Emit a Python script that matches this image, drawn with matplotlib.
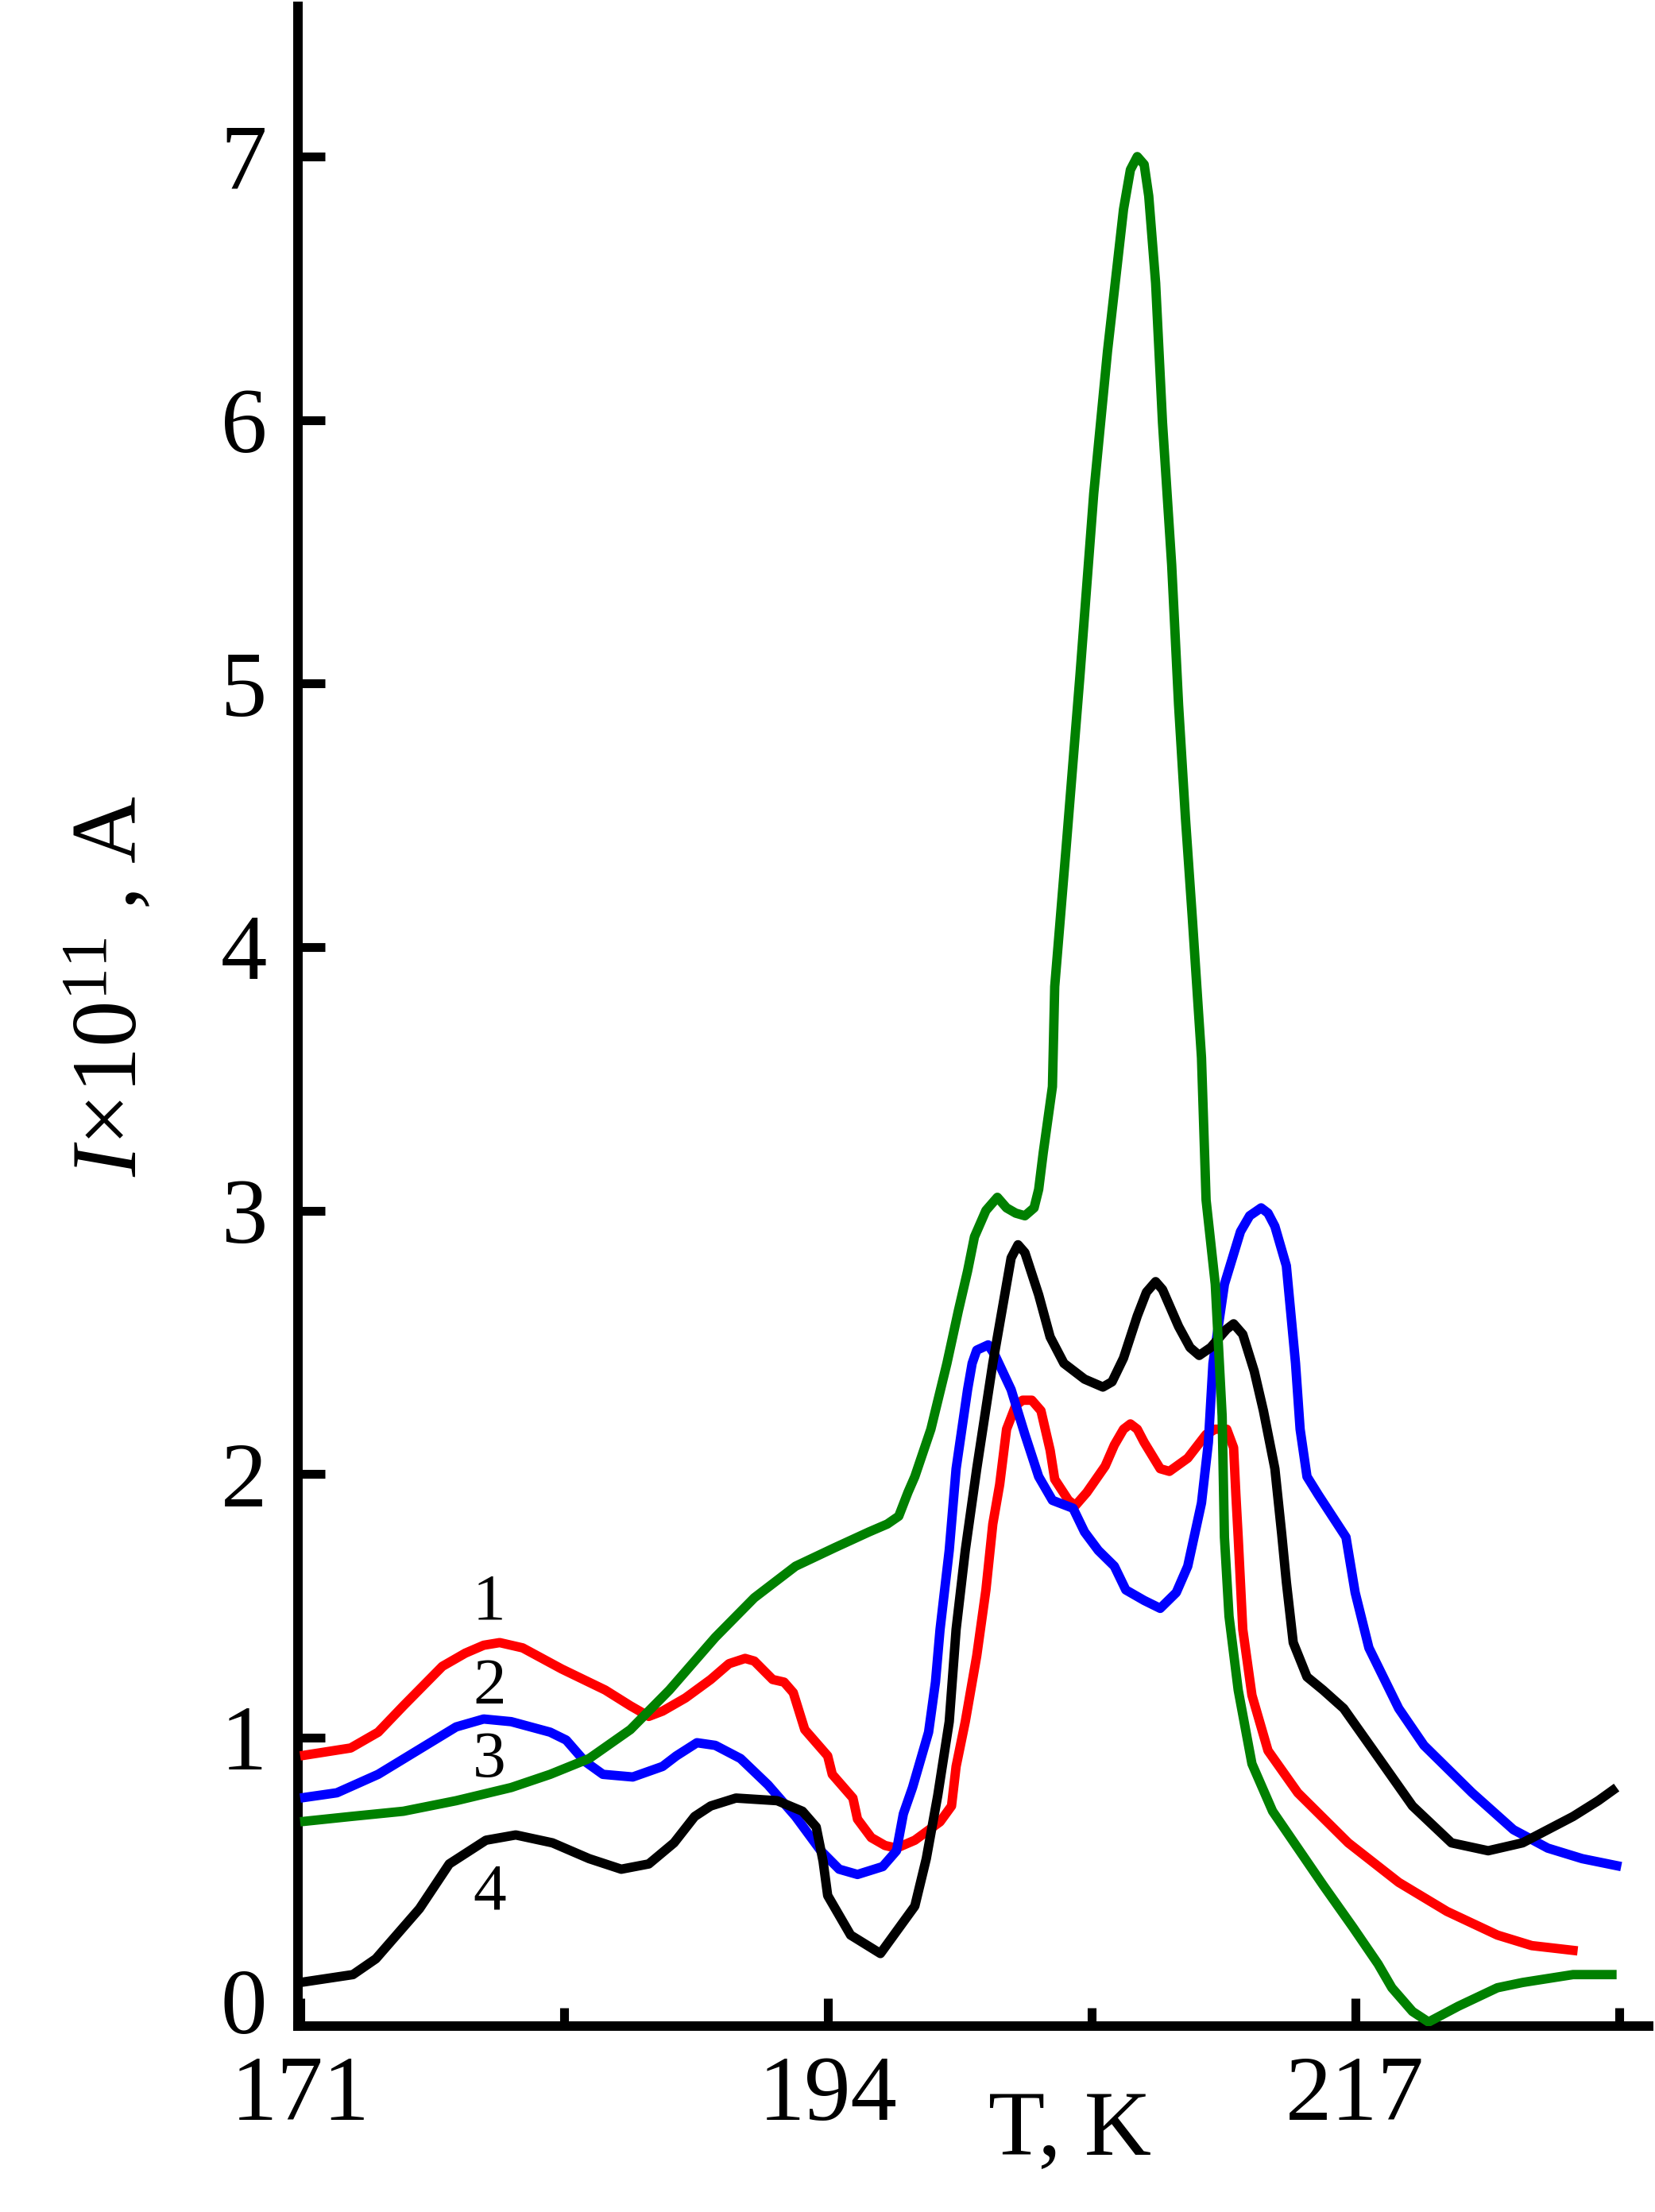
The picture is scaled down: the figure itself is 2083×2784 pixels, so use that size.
import matplotlib
matplotlib.use('Agg')
import matplotlib.pyplot as plt

plt.rcParams['font.family'] = ['Liberation Serif', 'DejaVu Serif']
plt.rcParams['mathtext.fontset'] = 'custom'
plt.rcParams['mathtext.rm'] = 'Liberation Serif'
plt.rcParams['mathtext.it'] = 'Liberation Serif:italic'

# ---- data (T in K, I x 1e11 in A) ----
T_red = [171.0, 173.2, 174.4, 175.5, 177.2, 178.2, 179.0, 179.7, 180.7, 182.4, 184.3, 185.4, 186.2, 186.8,
         187.8, 188.9, 189.7, 190.4, 190.8, 191.6, 192.1, 192.5, 193.0, 193.6, 194.0, 194.2, 194.6,
         195.1, 195.3, 195.9, 196.5, 197.0, 197.8, 198.9, 199.4, 199.6, 200.0, 200.5, 200.9, 201.2, 201.5,
         201.8, 202.2, 202.5, 202.9, 203.3, 203.7, 203.9, 204.5, 204.8, 205.3, 206.1, 206.5, 206.9, 207.2, 207.5, 207.8,
         208.5, 208.9, 209.7, 210.5, 210.9, 211.4, 211.7, 211.8, 211.9, 212.1, 212.5, 213.2, 214.5,
         216.7, 218.9, 221.0, 223.2, 224.7, 226.7]
I_red = [0.93, 0.96, 1.02, 1.12, 1.27, 1.32, 1.35, 1.36, 1.34, 1.26, 1.18, 1.12, 1.08, 1.10,
         1.15, 1.22, 1.28, 1.30, 1.29, 1.22, 1.21, 1.17, 1.03, 0.97, 0.93, 0.86, 0.82,
         0.77, 0.69, 0.62, 0.59, 0.58, 0.61, 0.68, 0.74, 0.89, 1.06, 1.31, 1.56, 1.81, 1.96,
         2.17, 2.26, 2.28, 2.28, 2.24, 2.09, 1.98, 1.90, 1.88, 1.93, 2.03, 2.11, 2.17, 2.19, 2.17, 2.12,
         2.02, 2.01, 2.06, 2.15, 2.17, 2.17, 2.10, 1.92, 1.76, 1.41, 1.16, 0.95, 0.79,
         0.60, 0.45, 0.34, 0.25, 0.21, 0.19]

T_blue = [171.0, 172.6, 174.4, 176.1, 177.8, 179.0, 180.2, 181.9, 182.6, 183.4, 184.2, 185.5, 186.8,
          187.4, 188.3, 189.1, 190.2, 191.4, 192.6, 193.7, 194.5, 195.3, 196.4, 197.0, 197.3, 197.7,
          198.4, 198.7, 198.9, 199.3, 199.6, 200.1, 200.3, 200.5, 201.0, 201.3, 202.0, 202.6, 203.2,
          203.8, 204.7, 205.2, 205.8, 206.5, 207.0, 207.8, 208.5, 209.2, 209.7, 210.3, 210.6, 210.8,
          211.3, 212.0, 212.4, 212.9, 213.2, 213.5, 214.0, 214.4, 214.6, 214.9, 215.4, 216.0, 216.6, 217.0, 217.6,
          218.9, 220.0, 222.1, 223.9, 225.4, 226.9, 228.6]
I_blue = [0.77, 0.79, 0.86, 0.95, 1.04, 1.07, 1.06, 1.02, 0.99, 0.91, 0.86, 0.85, 0.89,
          0.93, 0.98, 0.97, 0.92, 0.82, 0.70, 0.57, 0.50, 0.48, 0.51, 0.57, 0.71, 0.81,
          1.02, 1.21, 1.41, 1.71, 2.02, 2.32, 2.42, 2.47, 2.49, 2.45, 2.32, 2.15, 1.99,
          1.90, 1.87, 1.78, 1.71, 1.65, 1.56, 1.52, 1.49, 1.55, 1.65, 1.89, 2.12, 2.42,
          2.72, 2.92, 2.98, 3.01, 2.99, 2.94, 2.79, 2.42, 2.17, 1.99, 1.92, 1.84, 1.76, 1.55, 1.34,
          1.11, 0.97, 0.79, 0.65, 0.58, 0.54, 0.51]

T_black = [171.0, 173.3, 174.3, 176.2, 177.5, 179.1, 180.4, 182.0, 183.6, 185.0, 186.2, 187.3, 188.2,
           188.9, 190.0, 191.8, 192.9, 193.5, 193.8, 194.0, 195.0, 196.3, 197.8, 198.3, 198.8, 199.3,
           199.6, 200.0, 200.5, 201.2, 201.7, 202.0, 202.3, 202.6, 203.2, 203.7, 204.3, 205.2, 206.0,
           206.4, 206.9, 207.5, 207.9, 208.3, 208.6, 209.3, 209.8, 210.2, 210.7, 211.4, 211.7, 212.1,
           212.6, 213.0, 213.5, 213.8, 214.0, 214.3, 214.9, 215.6, 216.5, 217.8, 219.5, 221.2, 222.8,
           224.3, 226.5, 227.6, 228.4]
I_black = [0.07, 0.10, 0.16, 0.35, 0.52, 0.61, 0.63, 0.60, 0.54, 0.50, 0.52, 0.60, 0.70,
           0.74, 0.77, 0.76, 0.72, 0.66, 0.53, 0.40, 0.25, 0.18, 0.36, 0.54, 0.78, 1.06,
           1.41, 1.71, 2.02, 2.42, 2.67, 2.82, 2.87, 2.84, 2.68, 2.52, 2.42, 2.36, 2.33,
           2.35, 2.44, 2.60, 2.69, 2.73, 2.70, 2.56, 2.48, 2.45, 2.48, 2.55, 2.57, 2.53,
           2.39, 2.24, 2.02, 1.77, 1.59, 1.36, 1.23, 1.18, 1.11, 0.95, 0.74, 0.60, 0.57,
           0.60, 0.70, 0.76, 0.81]

T_green = [171.0, 173.2, 175.5, 177.8, 180.2, 181.9, 183.6, 185.4, 187.1, 189.1, 190.8, 192.6, 194.3,
           195.8, 196.6, 197.1, 197.5, 197.8, 198.5, 199.2, 199.7, 200.1, 200.4, 200.9, 201.4, 201.8,
           202.2, 202.6, 203.0, 203.2, 203.4, 203.8, 203.9, 204.4, 205.0, 205.6, 206.2, 206.9, 207.2, 207.5,
           207.8, 208.0, 208.3, 208.6, 209.0, 209.3, 209.6, 209.9, 210.3, 210.5, 210.9, 211.2, 211.3, 211.5,
           211.9, 212.5, 213.4, 214.5, 215.6, 216.9, 218.0, 218.6, 219.5, 220.2, 221.5, 223.2, 224.3,
           226.5, 228.4]
I_green = [0.68, 0.70, 0.72, 0.76, 0.81, 0.86, 0.92, 1.03, 1.18, 1.38, 1.53, 1.65, 1.72,
           1.78, 1.81, 1.84, 1.93, 1.99, 2.17, 2.42, 2.62, 2.77, 2.90, 3.00, 3.05, 3.01,
           2.99, 2.98, 3.01, 3.08, 3.22, 3.47, 3.85, 4.38, 5.03, 5.72, 6.26, 6.80, 6.95, 7.00,
           6.97, 6.85, 6.52, 5.99, 5.45, 4.92, 4.49, 4.11, 3.58, 3.04, 2.72, 2.22, 1.76, 1.46,
           1.18, 0.90, 0.72, 0.58, 0.44, 0.28, 0.14, 0.05, -0.04, -0.08, -0.02, 0.05, 0.07,
           0.10, 0.10]

curve_labels = ['1', '2', '3', '4']
label_T = [179.25, 179.25, 179.25, 179.25]
label_I = [1.45, 1.13, 0.85, 0.35]

x_major = [171, 194, 217]
x_minor = [182.5, 205.5, 228.5]
y_ticks = [0, 1, 2, 3, 4, 5, 6, 7]

# ---- figure ----
fig = plt.figure(figsize=(20.83, 27.84), dpi=100)
ax = fig.add_axes([0.1800, 0.0841, 0.8162, 0.9130])

lw = 8.5
style = dict(lw=lw, solid_joinstyle='round', solid_capstyle='butt')
ax.plot(T_red, I_red, color='#ff0000', zorder=3, **style)
ax.plot(T_blue, I_blue, color='#0000ff', zorder=4, **style)
ax.plot(T_black, I_black, color='#000000', zorder=5, **style)
ax.plot(T_green, I_green, color='#008000', zorder=6, **style)

for s, tx, ty in zip(curve_labels, label_T, label_I):
    ax.text(tx, ty, s, fontsize=60, ha='center', va='baseline', zorder=7)

ax.set_xlim(170.9, 229.8)
ax.set_ylim(-0.095, 7.57)

for side in ['top', 'right']:
    ax.spines[side].set_visible(False)
for side in ['left', 'bottom']:
    ax.spines[side].set_linewidth(8.6)
    ax.spines[side].set_capstyle('projecting')

ax.set_xticks(x_major)
ax.set_xticks(x_minor, minor=True)
ax.set_xticklabels([str(v) for v in x_major])
ax.set_yticks(y_ticks)
ax.set_yticklabels([str(v) for v in y_ticks])

ax.tick_params(axis='x', which='major', direction='in', length=25, width=8, pad=27, labelsize=84)
ax.tick_params(axis='x', which='minor', direction='in', length=16.5, width=8)
ax.tick_params(axis='y', which='major', direction='in', length=24.5, width=8, pad=28, labelsize=84)
ax.yaxis.get_major_ticks()[0].tick1line.set_visible(False)

fig.text(1347 / 2083, 1 - 2712 / 2784, 'T, K', fontsize=84, ha='center', va='baseline')
fig.text(172 / 2083, 1 - 1241 / 2784, r'$\mathit{I}$×10$^{11}$ , A', fontsize=84,
         rotation=90, rotation_mode='anchor', ha='center', va='baseline')

fig.savefig('out.png', dpi=100)
